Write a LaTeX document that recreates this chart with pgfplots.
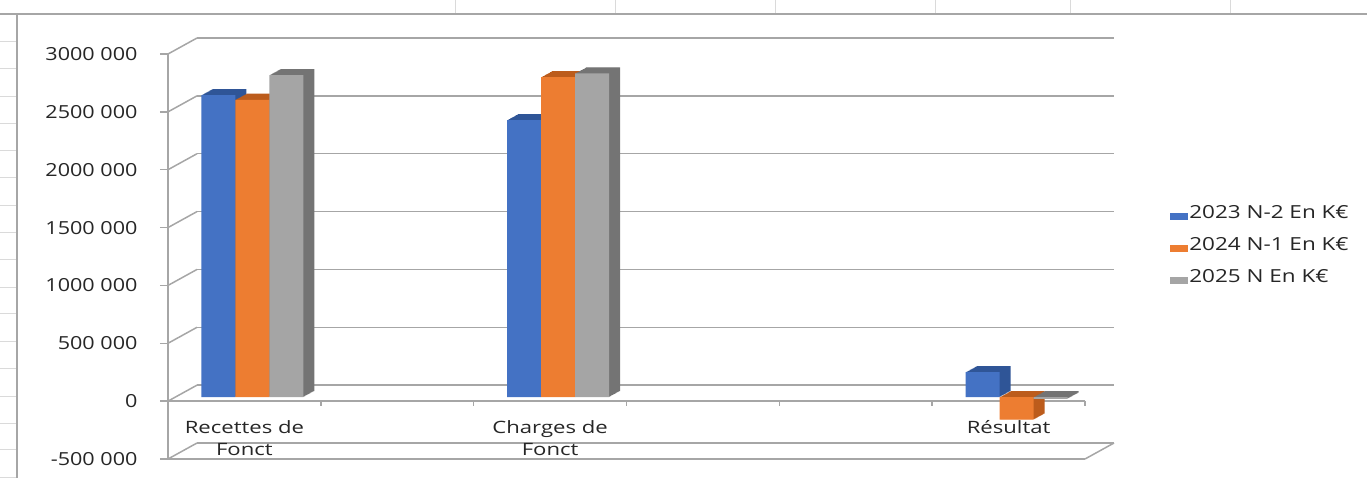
\documentclass[border=0pt]{standalone}
\usepackage{fontspec}
\setmainfont{Open Sans}
\newfontfamily\widefont[FakeStretch=1.3]{Open Sans}
\newfontfamily\tickfont[FakeStretch=1.2]{Open Sans}
\newfontfamily\legfont[FakeStretch=1.25]{Open Sans}
\usepackage{pgfplots}
\usepackage{pgfplotstable}
\pgfplotsset{compat=1.18}

\definecolor{cblue}{HTML}{4472C4}
\definecolor{corange}{HTML}{ED7D31}
\definecolor{cgrey}{HTML}{A5A5A5}
\definecolor{dblue}{HTML}{2F5597}
\definecolor{dorange}{HTML}{BC5C1C}
\definecolor{dgrey}{HTML}{747474}
\definecolor{gridc}{HTML}{A6A6A6}
\definecolor{sheet}{HTML}{DADADA}
\definecolor{txt}{HTML}{262626}

\pgfplotstableread{
x a b c
0 2610000 2570000 2783000
2 2394000 2765000 2797000
5 216000 -195000 -14000
}\data

\newcommand{\tf}{\tickfont\fontsize{18bp}{21bp}\selectfont}
\newcommand{\wf}{\widefont\fontsize{17bp}{22.5bp}\selectfont}
\newcommand{\lgf}{\legfont\fontsize{18bp}{21bp}\selectfont}

\begin{document}
\begin{tikzpicture}
\path[use as bounding box] (0bp,0bp) rectangle (1367bp,-478bp);
% worksheet cell lines
\foreach \xx in {455,615,775,935,1070,1230} \draw[sheet, line width=1bp] (\xx bp,0bp) -- (\xx bp,-14bp);
\foreach \yy in {41,68,96,123,150,177,205,232,259,287,313,341,368,396,423,449,477} \draw[sheet, line width=1bp] (0bp,-\yy bp) -- (17bp,-\yy bp);
% chart area border
\draw[gridc, line width=1.5bp] (0bp,-14bp) -- (1367bp,-14bp);
\draw[gridc, line width=1.5bp] (17bp,-14bp) -- (17bp,-478bp);

% back wall
\begin{axis}[at={(197bp,-443bp)}, anchor=south west, scale only axis,
  width=917bp, height=405bp,
  xmin=-0.5, xmax=5.5, ymin=-500000, ymax=3000000, scaled y ticks=false,
  ytick={-500000,0,500000,1000000,1500000,2000000,2500000,3000000},
  yticklabels={}, xtick=\empty,
  ymajorgrids, major grid style={gridc, line width=1.5bp},
  axis line style={draw=none}, major tick length=0pt]
\end{axis}

% front
\begin{axis}[at={(168bp,-459bp)}, anchor=south west, scale only axis,
  width=917bp, height=405bp,
  xmin=-0.5, xmax=5.5, ymin=-500000, ymax=3000000, clip=false,
  scaled y ticks=false,
  axis x line*=bottom, axis y line*=left,
  axis line style={-, gridc, line width=1.5bp},
  xtick={0,1,2,3,4,5},
  xticklabels={Recettes de\\Fonct,,Charges de\\Fonct,,,Résultat},
  x tick style={draw=none},
  ytick={-500000,0,500000,1000000,1500000,2000000,2500000,3000000},
  yticklabels={-500 000,0,500 000,1000 000,1500 000,2000 000,2500 000,3000 000},
  y tick style={gridc, line width=1.5bp},
  tick align=outside, major tick length=8bp,
  yticklabel style={font=\tf, text=txt, xshift=-19bp},
  xticklabel style={font=\wf, text=txt, align=center, anchor=north, inner sep=0pt, yshift=47bp},
  legend style={at={(1.0895,0.528)}, anchor=west, draw=none, fill=none,
    font=\lgf, text=txt, row sep=14bp,
    nodes={inner sep=1bp, text height=13bp, text depth=3bp}},
  legend cell align=left,
  legend image code/.code={\fill[#1] (0bp,-7bp) rectangle (18bp,0bp);},
]
\pgfplotsinvokeforeach{-500000,0,500000,1000000,1500000,2000000,2500000,3000000}{
  \draw[gridc, line width=1.5bp] (axis cs:-0.5,#1) -- ++(29bp,16bp);
}
\draw[gridc, line width=1.5bp] (axis cs:5.5,-500000) -- ++(29bp,16bp);
\draw[gridc, line width=1.5bp] (axis cs:-0.5,0) -- (axis cs:5.5,0);
\pgfplotsinvokeforeach{0.5,1.5,2.5,3.5,4.5,5.5}{
  \draw[gridc, line width=1.5bp] (axis cs:#1,0) -- ++(0bp,-5bp);
}

% 2023 series: depth sweep then front face
\pgfplotsinvokeforeach{1,2,3,4,5,6,7,8,9,10,11}{
\addplot[ybar, bar width=34bp, bar shift=-34bp, xshift={(8+#1)*1bp}, yshift={(4+#1*0.55)*1bp}, fill=dblue, draw=none, forget plot] table[x=x,y=a]{\data};
}
\addplot[ybar, bar width=34bp, bar shift=-34bp, xshift=8bp, yshift=4bp, fill=cblue, draw=none, forget plot] table[x=x,y=a]{\data};
% 2024 series
\pgfplotsinvokeforeach{1,2,3,4,5,6,7,8,9,10,11}{
\addplot[ybar, bar width=34bp, bar shift=0bp, xshift={(8+#1)*1bp}, yshift={(4+#1*0.55)*1bp}, fill=dorange, draw=none, forget plot] table[x=x,y=b]{\data};
}
\addplot[ybar, bar width=34bp, bar shift=0bp, xshift=8bp, yshift=4bp, fill=corange, draw=none, forget plot] table[x=x,y=b]{\data};
% 2025 series
\pgfplotsinvokeforeach{1,2,3,4,5,6,7,8,9,10,11}{
\addplot[ybar, bar width=34bp, bar shift=34bp, xshift={(8+#1)*1bp}, yshift={(4+#1*0.55)*1bp}, fill=dgrey, draw=none, forget plot] table[x=x,y=c]{\data};
}
\addplot[ybar, bar width=34bp, bar shift=34bp, xshift=8bp, yshift=4bp, fill=cgrey, draw=none, forget plot] table[x=x,y=c]{\data};

\addlegendimage{fill=cblue, draw=none}
\addlegendentry{2023 N-2 En K€}
\addlegendimage{fill=corange, draw=none}
\addlegendentry{2024 N-1 En K€}
\addlegendimage{fill=cgrey, draw=none}
\addlegendentry{2025 N En K€}
\end{axis}
\end{tikzpicture}
\end{document}
